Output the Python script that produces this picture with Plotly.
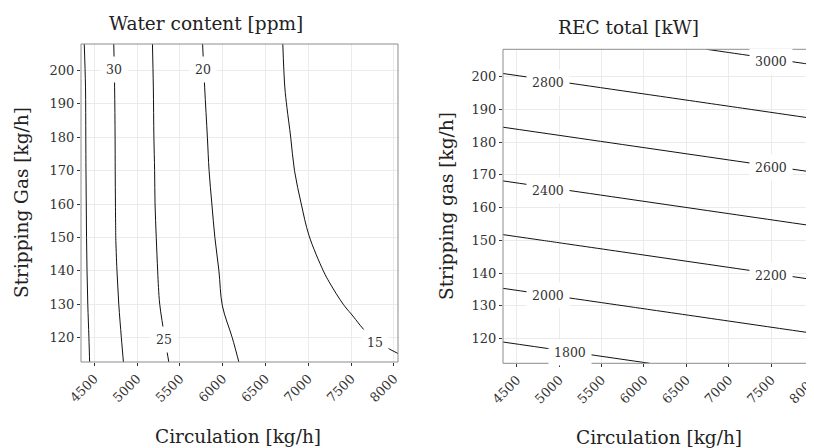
import plotly.graph_objects as go

# ---------------- data ----------------
# Left panel: water content [ppm] estimated on a grid (Circulation x Stripping gas)
wc_x = [4340, 4500, 4750, 5000, 5250, 5500, 5750, 6000, 6250, 6500, 6750, 7000, 7250, 7500, 7750, 8050]
wc_y = [112, 120, 130, 140, 150, 160, 170, 180, 195, 208]
wc_z = [
    [36.57, 34.21, 30.98, 28.34, 25.95, 24.05, 22.48, 20.90, 19.75, 19.18, 18.60, 18.02, 17.44, 16.87, 16.29, 15.59],
    [36.45, 34.07, 30.71, 28.03, 25.53, 23.71, 22.07, 20.44, 19.45, 18.70, 17.96, 17.21, 16.46, 15.71, 14.96, 14.12],
    [36.26, 33.87, 30.39, 27.70, 25.10, 23.35, 21.63, 19.95, 19.06, 18.17, 17.28, 16.38, 15.49, 14.71, 14.10, 13.42],
    [36.13, 33.73, 30.16, 27.48, 24.90, 23.10, 21.30, 19.72, 18.70, 17.69, 16.67, 15.65, 14.72, 13.99, 13.32, 12.58],
    [36.05, 33.64, 30.01, 27.31, 24.73, 22.84, 20.95, 19.45, 18.35, 17.25, 16.15, 15.05, 14.17, 13.38, 12.65, 11.86],
    [36.00, 33.59, 29.96, 27.18, 24.58, 22.65, 20.72, 19.26, 18.09, 16.91, 15.73, 14.64, 13.74, 12.93, 12.19, 11.38],
    [35.95, 33.54, 29.92, 27.13, 24.53, 22.52, 20.52, 19.09, 17.85, 16.61, 15.38, 14.30, 13.38, 12.54, 11.79, 10.96],
    [35.92, 33.51, 29.90, 27.05, 24.44, 22.42, 20.40, 18.99, 17.72, 16.46, 15.19, 14.11, 13.15, 12.29, 11.51, 10.67],
    [35.87, 33.45, 29.82, 26.98, 24.37, 22.29, 20.22, 18.81, 17.49, 16.17, 14.87, 13.82, 12.89, 12.04, 11.28, 10.45],
    [35.64, 33.25, 29.68, 26.85, 24.27, 22.18, 20.08, 18.72, 17.38, 16.04, 14.75, 13.72, 12.79, 11.95, 11.19, 10.37],
]
wc_levels = (15, 35, 5)
wc_label_text = ["30", "20", "25", "15"]
wc_label_x = [4734, 5767, 5314, 7775]
wc_label_y = [200.3, 200.3, 119.3, 118.6]

# Right panel: REC total [kW]
rec_x = [4338, 5000, 6000, 7000, 8100]
rec_y = [112.4, 130, 150, 170, 190, 208.4]
rec_z = [
    [1720.8, 1751.1, 1796.9, 1842.7, 1893.1],
    [1935.2, 1965.5, 2011.3, 2057.1, 2107.5],
    [2178.8, 2209.1, 2254.9, 2300.7, 2351.1],
    [2422.4, 2452.7, 2498.5, 2544.3, 2594.7],
    [2666.0, 2696.3, 2742.1, 2787.9, 2838.3],
    [2890.1, 2920.4, 2966.2, 3012.0, 3062.4],
]
rec_levels = (1800, 3000, 200)
rec_label_text = ["3000", "2800", "2600", "2400", "2200", "2000", "1800"]
rec_label_x = [7494, 4866, 7494, 4866, 7494, 4866, 5131]
rec_label_y = [204.6, 198.3, 172.2, 165.3, 139.1, 133.0, 115.7]

x_ticks = [4500, 5000, 5500, 6000, 6500, 7000, 7500, 8000]
y_ticks = [120, 130, 140, 150, 160, 170, 180, 190, 200]

# ---------------- styling ----------------
FONT = "DejaVu Serif"
W, H = 814, 448
OFF = 8  # page body margin offset in the browser

def px_x(p):
    return (p - OFF) / W

def px_y(p):
    return (H - (p - OFF)) / H

fig = go.Figure()

fig.add_trace(go.Contour(
    x=wc_x, y=wc_y, z=wc_z,
    contours=dict(start=wc_levels[0], end=wc_levels[1], size=wc_levels[2], coloring="none"),
    line=dict(color="#111111", width=1, smoothing=1.0),
    showscale=False, hoverinfo="skip", xaxis="x", yaxis="y",
))
fig.add_trace(go.Contour(
    x=rec_x, y=rec_y, z=rec_z,
    contours=dict(start=rec_levels[0], end=rec_levels[1], size=rec_levels[2], coloring="none"),
    line=dict(color="#111111", width=1),
    showscale=False, hoverinfo="skip", xaxis="x2", yaxis="y2",
))

axis_common = dict(
    showgrid=True, gridcolor="#ebebeb", gridwidth=1, zeroline=False,
    showline=False, ticks="outside", ticklen=3, tickcolor="#333333",
    tickfont=dict(family=FONT, size=13, color="#333333"), automargin=False,
)

left_dom_x = [px_x(81), px_x(398)]
left_dom_y = [px_y(362), px_y(44)]
right_dom_x = [px_x(503), 1.0]
right_dom_y = [px_y(363.3), px_y(49.3)]

fig.update_layout(
    width=W, height=H, margin=dict(l=0, r=0, t=0, b=0, autoexpand=False),
    paper_bgcolor="white", plot_bgcolor="white", showlegend=False,
    xaxis=dict(domain=left_dom_x, range=[4345, 8047], tickvals=x_ticks, tickangle=-45,
               anchor="y", **axis_common),
    yaxis=dict(domain=left_dom_y, range=[112.7, 207.9], tickvals=y_ticks,
               anchor="x", **axis_common),
    xaxis2=dict(domain=right_dom_x, range=[4338, 8099], tickvals=x_ticks, tickangle=-45,
                anchor="y2", **axis_common),
    yaxis2=dict(domain=right_dom_y, range=[112.4, 208.4], tickvals=y_ticks,
                anchor="x2", **axis_common),
)

annotations = []
for t, x, y in zip(wc_label_text, wc_label_x, wc_label_y):
    annotations.append(dict(x=x, y=y, xref="x", yref="y", text=t, showarrow=False,
                            font=dict(family=FONT, size=12.5, color="#333333"),
                            bgcolor="white", borderpad=5))
for t, x, y in zip(rec_label_text, rec_label_x, rec_label_y):
    annotations.append(dict(x=x, y=y, xref="x2", yref="y2", text=t, showarrow=False,
                            font=dict(family=FONT, size=12.5, color="#333333"),
                            bgcolor="white", borderpad=5))

title_font = dict(family=FONT, size=18.5, color="#222222")
title_common = dict(xref="paper", yref="paper", showarrow=False, font=title_font,
                    xanchor="center", yanchor="middle")
annotations += [
    dict(x=px_x(206), y=px_y(23), text="Water content [ppm]", **title_common),
    dict(x=px_x(628), y=px_y(28), text="REC total [kW]", **title_common),
    dict(x=px_x(238), y=px_y(436), text="Circulation [kg/h]", **title_common),
    dict(x=px_x(659), y=px_y(437), text="Circulation [kg/h]", **title_common),
    dict(x=px_x(22), y=px_y(203), text="Stripping Gas [kg/h]", textangle=-90, **title_common),
    dict(x=px_x(446), y=px_y(206), text="Stripping gas [kg/h]", textangle=-90, **title_common),
]
fig.update_layout(annotations=annotations)

border = dict(color="#8c8c8c", width=1)
fig.update_layout(shapes=[
    dict(type="rect", xref="paper", yref="paper", x0=left_dom_x[0], x1=left_dom_x[1],
         y0=left_dom_y[0], y1=left_dom_y[1], line=border, layer="above"),
    dict(type="rect", xref="paper", yref="paper", x0=right_dom_x[0], x1=1.02,
         y0=right_dom_y[0], y1=right_dom_y[1], line=border, layer="above"),
])

fig.write_html("out.html")
